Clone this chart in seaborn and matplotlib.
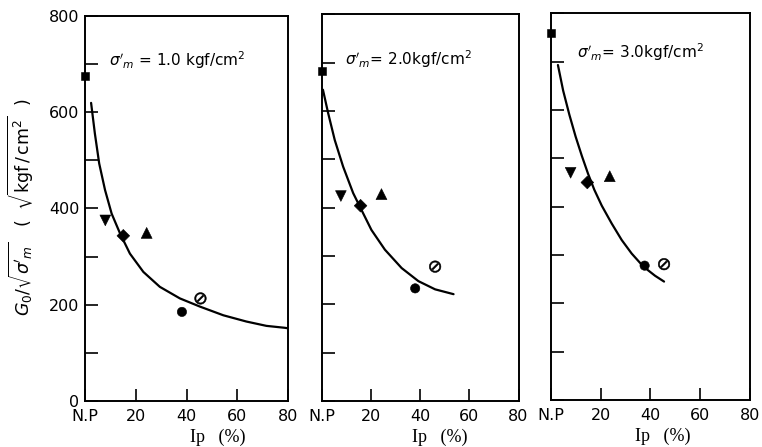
import matplotlib
matplotlib.use("Agg")
import matplotlib.pyplot as plt
import seaborn as sns
import pandas as pd

# Soil samples (marker kinds), N.P = non-plastic plotted at Ip = 0
samples = ["N.P", "S1", "S2", "S3", "S4", "S5"]
sample_markers = {"N.P": "s", "S1": "v", "S2": "D", "S3": "^", "S4": "o", "S5": r"$\oslash$"}
sample_sizes = {"N.P": 34, "S1": 60, "S2": 42, "S3": 62, "S4": 45, "S5": 70}

# Confining pressure of each panel (kgf/cm2)
panel_titles = [r"$\sigma'_m$ = 1.0 kgf/cm$^2$",
                r"$\sigma'_m$= 2.0kgf/cm$^2$",
                r"$\sigma'_m$= 3.0kgf/cm$^2$"]

# Plasticity index Ip (%) of each sample, per panel
ip_p1 = [0, 8.0, 15.1, 24.3, 38.2, 45.5]
ip_p2 = [0, 7.8, 15.8, 24.3, 38.0, 46.1]
ip_p3 = [0, 8.0, 14.7, 23.7, 37.7, 45.5]

# Normalised shear modulus G0/sqrt(sigma'm)
g_p1 = [675, 375, 343, 349, 185, 213]
g_p2 = [683, 424, 404, 428, 233, 278]
g_p3 = [759, 470, 450, 463, 278, 281]

# Trend curves (Ip, G0/sqrt(sigma'm))
curve1_ip = [2.4, 3.9, 5.6, 7.9, 10.5, 13.8, 17.7, 23.0, 29.5, 37.4, 45.3, 54.5, 63.6, 71.5, 78.7, 80.0]
curve1_g = [619, 555, 493, 438, 389, 348, 306, 268, 237, 213, 196, 178, 165, 156, 152, 151]
curve2_ip = [0.5, 2.6, 5.3, 8.7, 12.8, 16.2, 20.2, 25.7, 32.5, 39.3, 46.1, 53.6]
curve2_g = [644, 596, 540, 485, 430, 395, 354, 313, 275, 248, 231, 221]
curve3_ip = [2.9, 5.0, 7.5, 10.0, 12.5, 15.0, 17.5, 20.5, 24.5, 28.5, 32.5, 37.2, 41.9, 45.5]
curve3_g = [693, 640, 590, 545, 505, 468, 435, 402, 365, 331, 303, 276, 257, 245]

xtick_vals = [0, 20, 40, 60, 80]
xtick_labels = ["N.P", "20", "40", "60", "80"]
ytick_major = [0, 200, 400, 600, 800]
ytick_minor = [100, 300, 500, 700]

sns.set_theme(style="white")
plt.rcParams["font.family"] = ["DejaVu Sans"]
plt.rcParams["mathtext.fontset"] = "dejavusans"
plt.rcParams["text.color"] = "black"
plt.rcParams["axes.labelcolor"] = "black"

fig = plt.figure(figsize=(7.62, 4.47), dpi=100)
rects = [
    [85 / 762, 1 - 401 / 447, 203 / 762, (401 - 15.7) / 447],
    [321.7 / 762, 1 - 401 / 447, 196.8 / 762, (401 - 14.3) / 447],
    [550.7 / 762, 1 - 400 / 447, 199.3 / 762, (400 - 13.3) / 447],
]
xlabel_pos = [0.655, 0.60, 0.56]

ips = [ip_p1, ip_p2, ip_p3]
gs = [g_p1, g_p2, g_p3]
curves = [(curve1_ip, curve1_g), (curve2_ip, curve2_g), (curve3_ip, curve3_g)]

for i, rect in enumerate(rects):
    ax = fig.add_axes(rect)
    pts = pd.DataFrame({"Ip": ips[i], "G": gs[i], "sample": samples})
    cx, cy = curves[i]
    line = pd.DataFrame({"Ip": cx, "G": cy})

    sns.lineplot(data=line, x="Ip", y="G", color="black", lw=1.6,
                 sort=False, estimator=None, ax=ax)
    sns.scatterplot(data=pts, x="Ip", y="G", style="sample", size="sample",
                    markers=sample_markers, sizes=sample_sizes,
                    style_order=samples, size_order=samples,
                    color="black", edgecolor="black", linewidth=0.4,
                    legend=False, clip_on=False, zorder=5, ax=ax)

    ax.set_xlim(0, 80)
    ax.set_ylim(0, 800)
    ax.set_xticks(xtick_vals)
    ax.set_xticklabels(xtick_labels)
    ax.set_yticks(ytick_major)
    ax.set_yticks(ytick_minor, minor=True)
    ax.tick_params(axis="both", which="both", direction="in", length=9,
                   width=1.2, color="black", labelsize=11.5, labelcolor="black",
                   bottom=True, left=True, top=False, right=False)
    ax.tick_params(axis="x", pad=6)
    ax.tick_params(axis="y", pad=4)
    if i > 0:
        ax.tick_params(axis="y", labelleft=False)
    for sp in ax.spines.values():
        sp.set_linewidth(1.4)
        sp.set_color("black")

    ax.set_xlabel("Ip   (%)", fontsize=13, family="Liberation Serif", labelpad=2)
    ax.xaxis.set_label_coords(xlabel_pos[i], -0.072)
    ax.set_ylabel("")
    ax.text(0.12 if i != 2 else 0.13, 0.885 if i != 2 else 0.9, panel_titles[i],
            transform=ax.transAxes, fontsize=11, ha="left", va="center", color="black")

fig.text(0.027, 0.535, r"$G_0/\sqrt{\sigma'_m}$   (  $\sqrt{\mathrm{kgf\,/\,cm^2}}$  )",
         rotation=90, ha="center", va="center", fontsize=12.5, color="black")

fig.savefig("out.png", dpi=100)
